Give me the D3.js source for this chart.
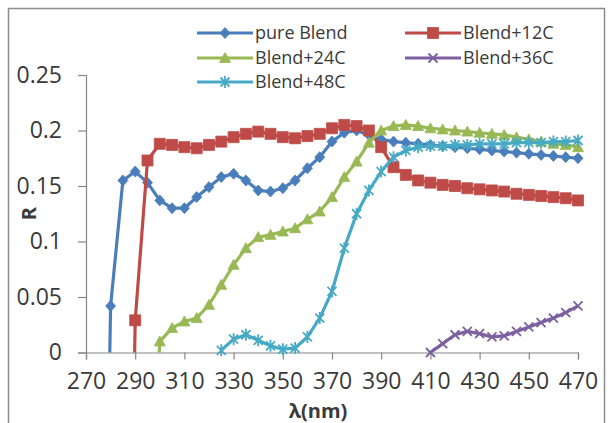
<!DOCTYPE html>
<html>
<head>
<meta charset="utf-8">
<script src="https://cdn.jsdelivr.net/npm/d3@7"></script>
<style>
body{margin:0;background:#fff;}
text{font-family:"Open Sans",sans-serif;fill:#3a3a3a;}
</style>
</head>
<body>
<svg id="chart" width="611" height="423"></svg>
<script>
//wavelength (nm), shared by all series
var wavelength = [275,280,285,290,295,300,305,310,315,320,325,330,335,340,345,350,355,360,365,370,
                  375,380,385,390,395,400,405,410,415,420,425,430,435,440,445,450,455,460,465,470];

//R values, null where the series has no point
var pureBlend = [-0.6,0.042,0.155,0.163,0.153,0.137,0.130,0.130,0.140,0.149,0.158,0.161,0.155,0.146,0.145,0.148,0.155,0.166,0.176,0.190,
                 0.198,0.200,0.196,0.192,0.190,0.189,0.188,0.187,0.186,0.185,0.184,0.183,0.182,0.181,0.180,0.179,0.178,0.177,0.176,0.175];
var blend12C = [null,null,-0.6,0.029,0.173,0.188,0.187,0.185,0.184,0.187,0.190,0.194,0.197,0.199,0.197,0.194,0.193,0.195,0.197,0.202,
                0.205,0.204,0.200,0.185,0.167,0.160,0.155,0.153,0.151,0.150,0.148,0.147,0.146,0.145,0.143,0.142,0.141,0.140,0.139,0.137];
var blend24C = [null,null,null,null,-0.2,0.010,0.022,0.028,0.031,0.043,0.061,0.079,0.094,0.104,0.106,0.109,0.112,0.120,0.127,0.140,
                0.158,0.172,0.189,0.200,0.204,0.205,0.204,0.202,0.201,0.200,0.199,0.198,0.197,0.196,0.194,0.192,0.190,0.188,0.187,0.185];
var blend36C = [null,null,null,null,null,null,null,null,null,null,null,null,null,null,null,null,null,null,null,null,
                null,null,null,null,null,null,null,0.000,0.008,0.016,0.019,0.017,0.014,0.015,0.019,0.023,0.027,0.031,0.036,0.042];
var blend48C = [null,null,null,null,null,null,null,null,null,null,0.002,0.012,0.016,0.011,0.006,0.003,0.004,0.014,0.031,0.055,
                0.094,0.125,0.146,0.163,0.176,0.182,0.185,0.186,0.186,0.187,0.187,0.188,0.188,0.188,0.189,0.189,0.189,0.190,0.190,0.191];

var seriesNames = ["pure Blend","Blend+12C","Blend+24C","Blend+36C","Blend+48C"];
var seriesValues = [pureBlend, blend12C, blend24C, blend36C, blend48C];
var colors = ["#4a7ebb","#be4b48","#98b954","#7d60a0","#46aac5"];
var markers = ["diamond","square","triangle","x","star"];

var xTicks = [270,290,310,330,350,370,390,410,430,450,470];
var yTicks = [0,0.05,0.1,0.15,0.2,0.25];
var yTickLabels = ["0","0.05","0.1","0.15","0.2","0.25"];

var svg = d3.select("#chart");

//outer frame
svg.append("rect")
	.attr("x", 8.5).attr("y", 8.5)
	.attr("width", 596).attr("height", 420)
	.attr("fill", "none")
	.attr("stroke", "#8c8c8c")
	.attr("stroke-width", 1.5);

var x = d3.scaleLinear().domain([270, 470]).range([86, 578]);
var y = d3.scaleLinear().domain([0, 0.25]).range([352.5, 75]);

//axes
var xAxis = svg.append("g")
	.attr("transform", "translate(0," + y(0) + ")")
	.call(d3.axisBottom(x).tickValues(xTicks).tickSize(7).tickPadding(13).tickFormat(d3.format("d")));
var yAxis = svg.append("g")
	.attr("transform", "translate(" + x(270) + ",0)")
	.call(d3.axisLeft(y).tickValues(yTicks).tickSize(8).tickPadding(16)
		.tickFormat(function(d, i){ return yTickLabels[i] }));

[xAxis, yAxis].forEach(function(a){
	a.select(".domain").attr("stroke", "#868686").attr("stroke-width", 1.2);
	a.selectAll(".tick line").attr("stroke", "#868686").attr("stroke-width", 1.2);
	a.selectAll(".tick text")
		.attr("font-size", 23)
		.attr("font-family", "Open Sans")
		.attr("fill", "#3a3a3a");
});

//axis titles
svg.append("text")
	.attr("x", 318).attr("y", 418)
	.attr("text-anchor", "middle")
	.attr("font-size", 20)
	.attr("font-weight", "bold")
	.text("λ(nm)");
svg.append("text")
	.attr("transform", "translate(36," + y(0.125) + ") rotate(-90)")
	.attr("text-anchor", "middle")
	.attr("font-size", 20)
	.attr("font-weight", "bold")
	.text("R");

//clip lines at the plot area
svg.append("clipPath").attr("id", "plotClip")
  .append("rect")
	.attr("x", x(270)).attr("y", 0)
	.attr("width", x(470) - x(270) + 20)
	.attr("height", y(0));

function markerPath(type){
	if(type == "diamond") return "M0,-5.5L5,0L0,5.5L-5,0Z";
	if(type == "square") return "M-5.5,-5.5H5.5V5.5H-5.5Z";
	if(type == "triangle") return "M0,-5.5L5.5,4.5L-5.5,4.5Z";
	if(type == "x") return "M-4.5,-4.5L4.5,4.5M-4.5,4.5L4.5,-4.5";
	return "M-4.5,-4.5L4.5,4.5M-4.5,4.5L4.5,-4.5M0,-6L0,6";
}
function isStroke(type){
	return type == "x" || type == "star";
}

var line = d3.line()
	.defined(function(d){ return d != null })
	.x(function(d, i){ return x(wavelength[i]) })
	.y(function(d){ return y(d) });

seriesValues.forEach(function(vals, s){
	var g = svg.append("g");
	g.append("path")
		.attr("clip-path", "url(#plotClip)")
		.attr("d", line(vals))
		.attr("fill", "none")
		.attr("stroke", colors[s])
		.attr("stroke-width", 3.2)
		.attr("stroke-linejoin", "round");

	var pts = [];
	vals.forEach(function(v, i){ if(v != null && v >= 0) pts.push([wavelength[i], v]) });
	g.selectAll(".mk")
		.data(pts)
	  .enter().append("path")
		.attr("transform", function(d){ return "translate(" + x(d[0]) + "," + y(d[1]) + ")" })
		.attr("d", markerPath(markers[s]))
		.attr("fill", isStroke(markers[s]) ? "none" : colors[s])
		.attr("stroke", colors[s])
		.attr("stroke-width", isStroke(markers[s]) ? 1.8 : 0.8);
});

//legend
var legendX = [197, 405];
var legendY = [33, 58, 82];
seriesNames.forEach(function(name, s){
	var lx = legendX[s % 2];
	var ly = legendY[Math.floor(s / 2)];
	var lg = svg.append("g").attr("transform", "translate(" + lx + "," + ly + ")");
	lg.append("line")
		.attr("x1", 0).attr("x2", 56)
		.attr("y1", 0).attr("y2", 0)
		.attr("stroke", colors[s])
		.attr("stroke-width", 3.2);
	lg.append("path")
		.attr("transform", "translate(28,0)")
		.attr("d", markerPath(markers[s]))
		.attr("fill", isStroke(markers[s]) ? "none" : colors[s])
		.attr("stroke", colors[s])
		.attr("stroke-width", isStroke(markers[s]) ? 1.8 : 0.8);
	lg.append("text")
		.attr("x", 58).attr("y", 6)
		.attr("font-size", 18)
		.text(name);
});
</script>
</body>
</html>
